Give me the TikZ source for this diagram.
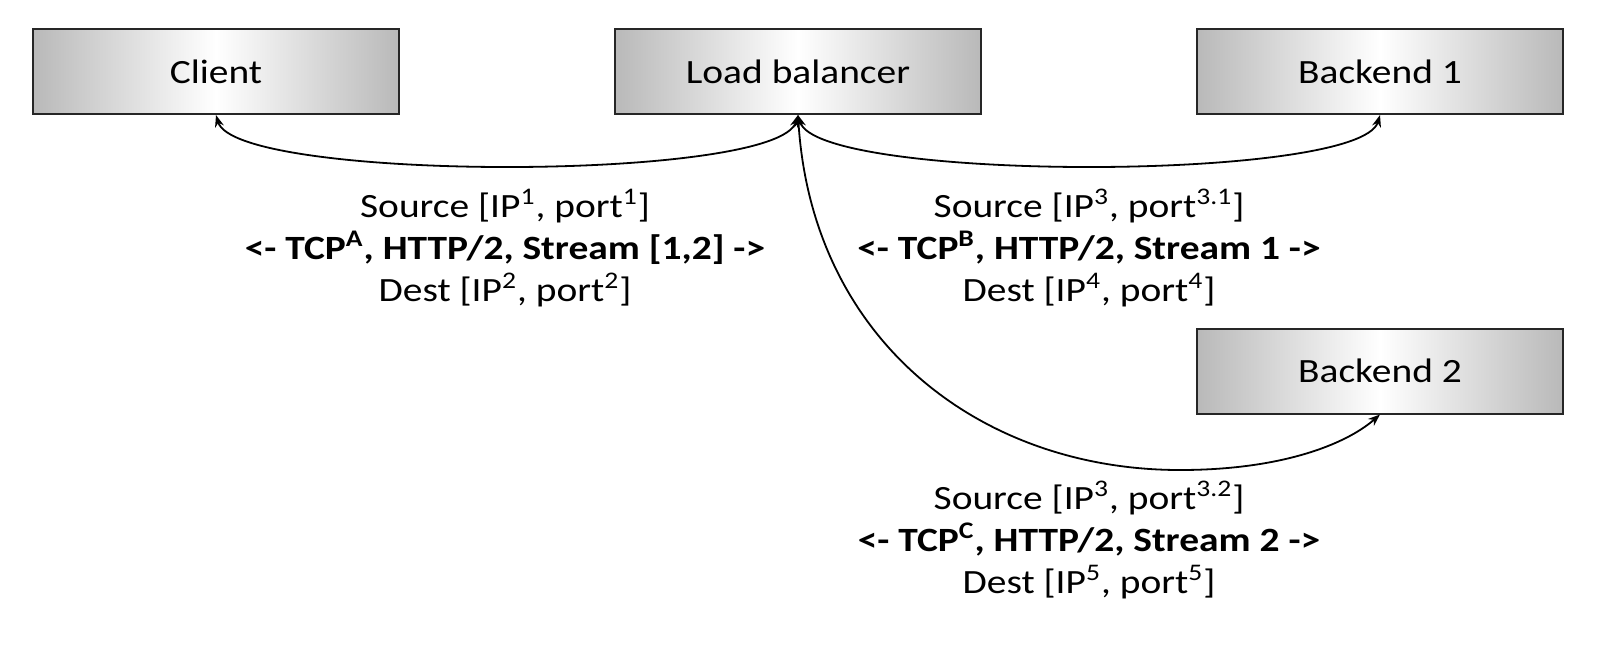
\documentclass[tikz,border=0pt]{standalone}
\usepackage{fontspec}
\setmainfont{Carlito}[FakeStretch=1.16]
\usetikzlibrary{arrows.meta}
\begin{document}
\begin{tikzpicture}[x=0.5pt,y=-0.5pt,
  box/.style={draw=black!85, line width=1pt, minimum width=183pt, minimum height=42.5pt,
    left color=gray!55, right color=gray!55, middle color=white, font=\fontsize{17}{21}\selectfont, inner sep=0pt},
  lbl/.style={align=center, font=\fontsize{17}{21}\selectfont, inner sep=0pt},
  tip/.style={Stealth[length=6pt,width=4.5pt]},
  conn/.style={line width=0.9pt, {Stealth[length=6pt,width=4.5pt]}-{Stealth[length=6pt,width=4.5pt]}}]
\useasboundingbox (0,0) rectangle (1600,650);
\node[box] (client) at (216,71.5) {Client};
\node[box] (lb) at (798,71.5) {Load balancer};
\node[box] (b1) at (1380,71.5) {Backend 1};
\node[box] (b2) at (1380,371) {Backend 2};
\coordinate (low2) at (1180,470);
\draw[conn] (client.south) .. controls (236,182) and (778,182) .. (lb.south);
\draw[conn] (lb.south) .. controls (818,182) and (1360,182) .. (b1.south);
\draw[line width=0.9pt, {Stealth[length=6pt,width=4.5pt]}-] (lb.south) .. controls (812,340) and (980,470) .. (low2);
\draw[line width=0.9pt, -{Stealth[length=6pt,width=4.5pt]}] (low2) .. controls (1280,470) and (1345,445) .. (b2.south);
\node[lbl] (t1) at (505,248) {Source [IP\textsuperscript{1}, port\textsuperscript{1}]\\
  \textbf{<- TCP\textsuperscript{A}, HTTP/2, Stream [1,2] ->}\\
  Dest [IP\textsuperscript{2}, port\textsuperscript{2}]};
\node[lbl] (t2) at (1089,248) {Source [IP\textsuperscript{3}, port\textsuperscript{3.1}]\\
  \textbf{<- TCP\textsuperscript{B}, HTTP/2, Stream 1 ->}\\
  Dest [IP\textsuperscript{4}, port\textsuperscript{4}]};
\node[lbl] (t3) at (1089,540) {Source [IP\textsuperscript{3}, port\textsuperscript{3.2}]\\
  \textbf{<- TCP\textsuperscript{C}, HTTP/2, Stream 2 ->}\\
  Dest [IP\textsuperscript{5}, port\textsuperscript{5}]};
\end{tikzpicture}
\end{document}
